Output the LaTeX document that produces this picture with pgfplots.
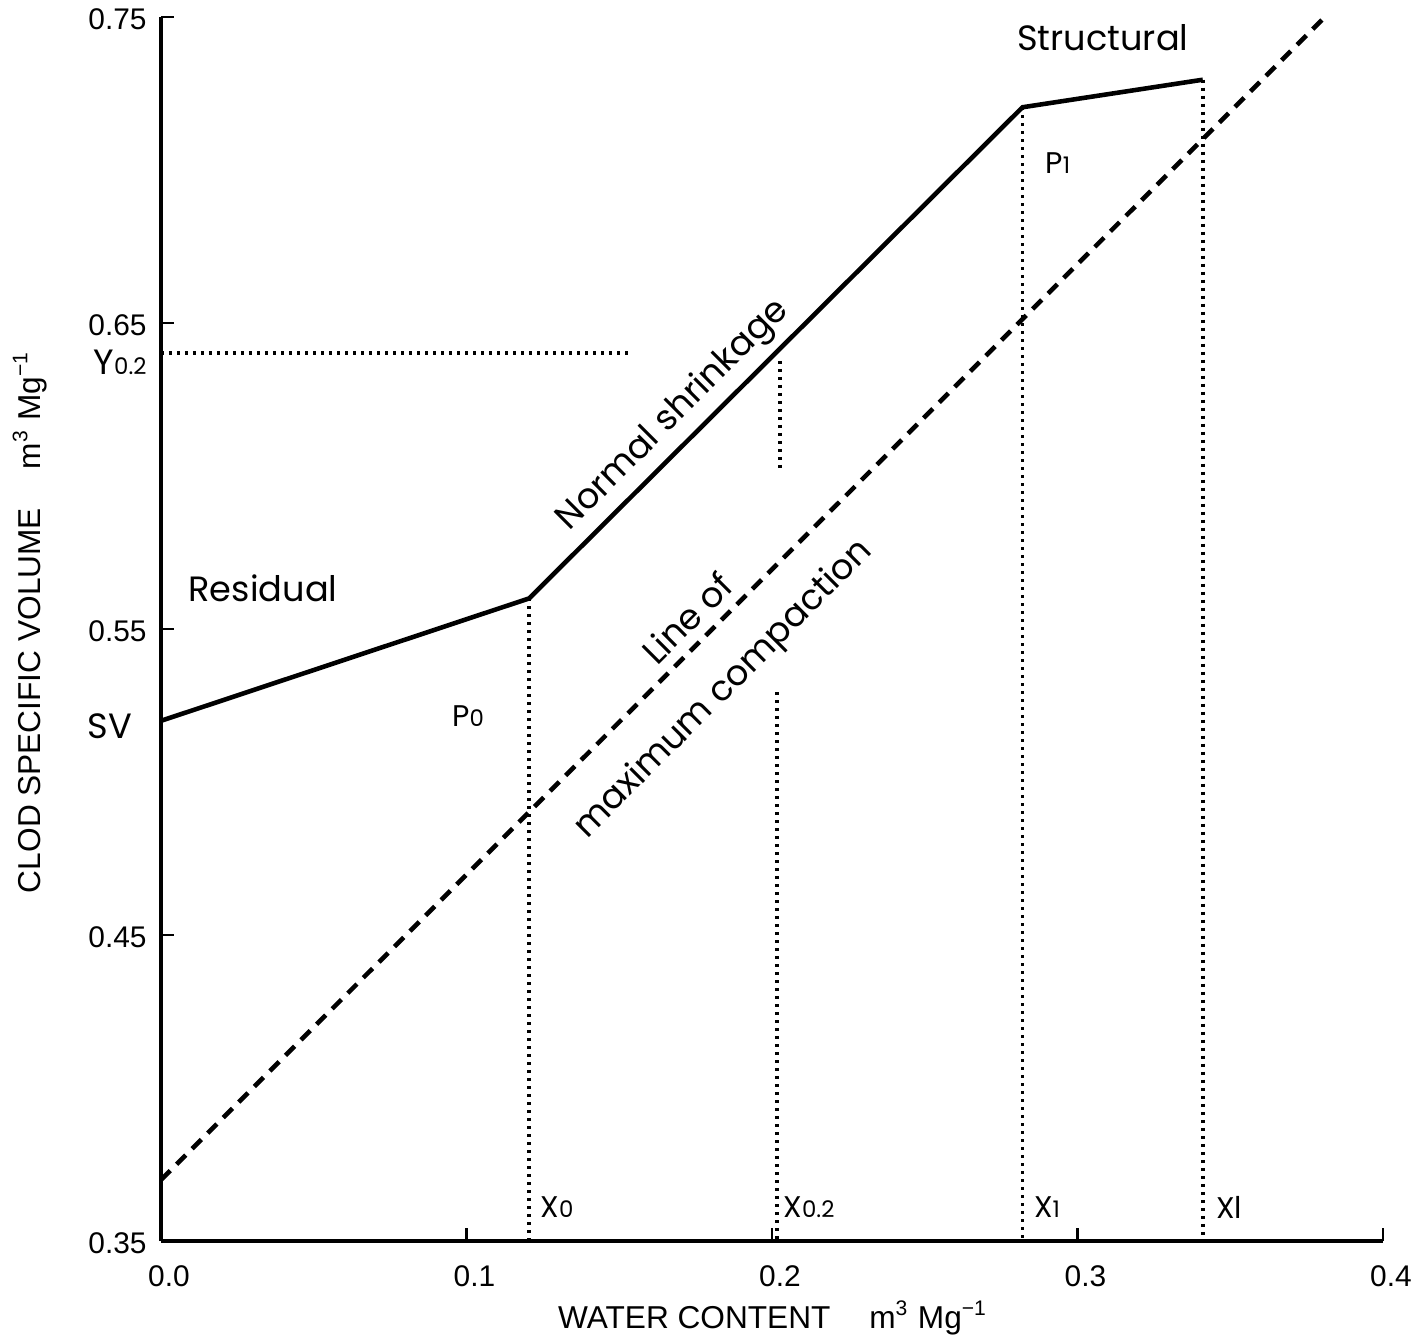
\documentclass[border=0pt]{standalone}
\usepackage{pgfplots}
\pgfplotsset{compat=1.18}
\usepackage{fontspec}
\setmainfont{Poppins}
\newfontfamily\helv{Liberation Sans}
\newcommand{\sub}[1]{{\fontsize{6.5}{7}\selectfont #1}}
\begin{document}
\begin{tikzpicture}
\begin{axis}[
  scale only axis, width=12.22cm, height=12.24cm,
  xmin=0, xmax=0.4, ymin=0.35, ymax=0.75,
  axis x line*=bottom, axis y line*=left, axis line style={-, line width=0.9pt},
  tick align=inside, major tick length=0.13cm,
  tick style={line width=0.8pt, black},
  xtick={0,0.1,0.2,0.3,0.4}, xticklabels={0.0,0.1,0.2,0.3,0.4},
  ytick={0.35,0.45,0.55,0.65,0.75}, yticklabels={0.35,0.45,0.55,0.65,0.75},
  ticklabel style={font=\helv\fontsize{8.5}{10}\selectfont},
  xticklabel style={xshift=0.08cm, yshift=-0.12cm},
  yticklabel style={xshift=-0.02cm, yshift=-0.02cm},
  clip=false,
  dotline/.style={black, line width=1.1pt, dash pattern=on 0.028cm off 0.052cm},
]
\addplot[black, line width=1.3pt] coordinates {(0,0.52) (0.1205,0.56) (0.282,0.7205) (0.341,0.7295)};
\addplot[black, line width=1.3pt, dash pattern=on 0.13cm off 0.09cm] coordinates {(0,0.37) (0.38,0.749)};
\addplot[dotline] coordinates {(0,0.6402) (0.1527,0.6402)};
\addplot[dotline] coordinates {(0.1205,0.56) (0.1205,0.35)};
\addplot[dotline] coordinates {(0.2025,0.6376) (0.2025,0.6023)};
\addplot[dotline] coordinates {(0.2015,0.5294) (0.2015,0.35)};
\addplot[dotline] coordinates {(0.282,0.7205) (0.282,0.35)};
\addplot[dotline] coordinates {(0.341,0.7295) (0.341,0.35)};

\node[font=\fontsize{10}{12}\selectfont] at (axis cs:0.0334,0.5634) {Residual};
\node[font=\fontsize{10}{12}\selectfont] at (axis cs:0.3083,0.7431) {Structural};
\node[font=\fontsize{8.5}{10}\selectfont] at (axis cs:0.1005,0.5216) {P\sub{0}};
\node[font=\fontsize{8.5}{10}\selectfont] at (axis cs:0.2936,0.7023) {P\sub{1}};
\node[font=\fontsize{10}{12}\selectfont] at (axis cs:-0.0167,0.5183) {SV};
\node[font=\fontsize{10}{12}\selectfont] at (axis cs:-0.0134,0.6373) {Y\sub{0.2}};
\node[font=\fontsize{8.5}{10}\selectfont] at (axis cs:0.1296,0.3611) {X\sub{0}};
\node[font=\fontsize{8.5}{10}\selectfont] at (axis cs:0.2121,0.3611) {X\sub{0.2}};
\node[font=\fontsize{8.5}{10}\selectfont] at (axis cs:0.2900,0.3611) {X\sub{1}};
\node[font=\fontsize{8.5}{10}\selectfont] at (axis cs:0.3496,0.3611) {Xl};
\node[font=\fontsize{10}{12}\selectfont, rotate=45] at (axis cs:0.1678,0.6198) {Normal shrinkage};
\node[font=\fontsize{10}{12}\selectfont, rotate=45] at (axis cs:0.1722,0.5536) {Line of};
\node[font=\fontsize{10}{12}\selectfont, rotate=45] at (axis cs:0.1843,0.5301) {maximum compaction};

\node[font=\helv\fontsize{9}{11}\selectfont] at (axis cs:0.2003,0.3248) {WATER CONTENT\hspace{0.3cm} m\textsuperscript{3} Mg\textsuperscript{−1}};
\node[font=\helv\fontsize{9}{11}\selectfont, rotate=90] at (axis cs:-0.0429,0.5523) {CLOD SPECIFIC VOLUME\hspace{0.3cm} m\textsuperscript{3} Mg\textsuperscript{−1}};

\coordinate (bl) at (axis cs:-0.0527,0.31667);
\coordinate (tr) at (axis cs:0.41277,0.75556);
\end{axis}
\pgfresetboundingbox
\path (bl) rectangle (tr);
\end{tikzpicture}
\end{document}
